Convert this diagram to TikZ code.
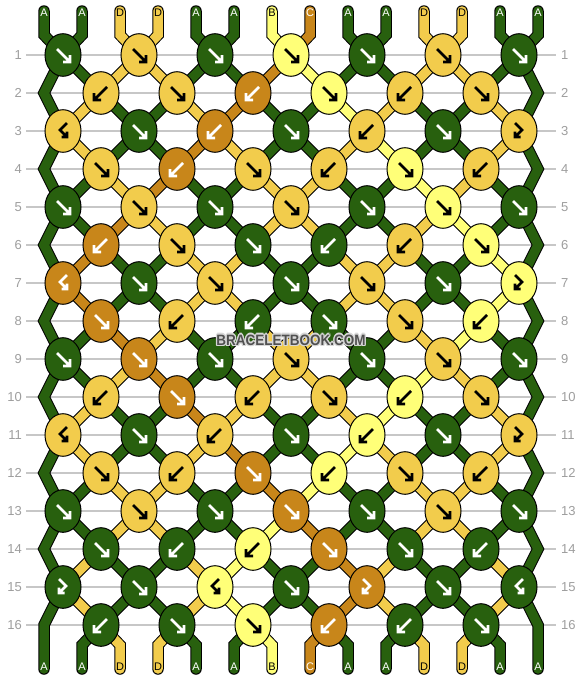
\documentclass[tikz,border=0pt]{standalone}
\usepackage{fontspec}
\setmainfont{Liberation Sans}
\usetikzlibrary{shapes.geometric}
\pgfdeclarelayer{bg}
\pgfsetlayers{bg,main}
\definecolor{cA}{RGB}{40,96,14}
\definecolor{cD}{RGB}{242,204,76}
\definecolor{cB}{RGB}{255,255,120}
\definecolor{cC}{RGB}{200,134,26}
\colorlet{tA}{white}
\colorlet{tC}{white}
\colorlet{tB}{black}
\colorlet{tD}{black}
\definecolor{wmgray}{RGB}{80,80,80}
\definecolor{wmhalo}{RGB}{215,215,215}
\newcommand\drawstrand[2]{\draw[strandout] #2; \draw[strandin,draw=c#1] #2;}
\newcommand\kArrf[1]{\draw[arw,draw=#1] (-6,-6) -- (7,7) (7,0) -- (7,7) -- (0,7);}
\newcommand\kArrb[1]{\draw[arw,draw=#1] (6,-6) -- (-7,7) (-7,0) -- (-7,7) -- (0,7);}
\newcommand\kArrfb[1]{\draw[arw,draw=#1] (-4,-8) -- (3,-1) -- (-4,6) (-4,0.5) -- (-4,6) -- (1.5,6);}
\newcommand\kArrbf[1]{\draw[arw,draw=#1] (4,-8) -- (-3,-1) -- (4,6) (4,0.5) -- (4,6) -- (-1.5,6);}
\newcommand\wmtext{\scalebox{0.9}[1]{\fontsize{15}{15}\selectfont\bfseries BRACELETBOOK.COM}}
\begin{document}
\begin{tikzpicture}[x=1pt,y=-1pt,
  strandout/.style={line width=11.5pt, draw=black, line cap=round, line join=miter},
  strandin/.style={line width=9.5pt, line cap=round, line join=miter},
  knot/.style={ellipse, draw=black, line width=1pt, minimum width=36pt, minimum height=42.6pt, inner sep=0pt},
  arw/.style={line width=2.8pt, line join=miter, line cap=butt},
  gridline/.style={draw=black!22, line width=1.2pt},
  rowlab/.style={text=black!38, inner sep=0pt, font=\fontsize{13}{13}\selectfont},
  strlab/.style={inner sep=0pt, font=\fontsize{11}{11}\selectfont}]
\useasboundingbox (0,0) rectangle (582,680);
% background, grid lines and row numbers
\begin{pgfonlayer}{bg}
\fill[white] (0,0) rectangle (582,680);
\foreach \rw in {1,...,16} {
  \pgfmathtruncatemacro\ky{17+38*\rw}
  \draw[gridline] (26,\ky) -- (556,\ky);
}
\end{pgfonlayer}
\foreach \rw in {1,...,16} {
  \pgfmathtruncatemacro\ky{17+38*\rw}
  \node[rowlab, anchor=east] (ll\rw) at (22,\ky) {\rw};
  \node[rowlab, anchor=west] (rl\rw) at (561,\ky) {\rw};
}
% helper coordinates
\foreach \pp in {1,...,14} {
  \pgfmathtruncatemacro\X{44+38*(\pp-1)}
  \coordinate (ta\pp) at (\X,11);
  \coordinate (tb\pp) at (\X,35);
  \coordinate (bb\pp) at (\X,645);
  \coordinate (ba\pp) at (\X,669);
}
\foreach \rw in {2,4,...,16} {
  \pgfmathtruncatemacro\ky{17+38*\rw}
  \coordinate (eL\rw) at (44,\ky);
  \coordinate (eR\rw) at (538,\ky);
}
% knots
\foreach \rw/\lst in {
  1/{f/A,f/D,f/A,f/B,f/A,f/D,f/A},
  2/{b/D,f/D,b/C,f/B,b/D,f/D},
  3/{bf/D,f/A,b/C,f/A,b/D,f/A,fb/D},
  4/{f/D,b/C,f/D,b/D,f/B,b/D},
  5/{f/A,f/D,f/A,f/D,f/A,f/B,f/A},
  6/{b/C,f/D,f/A,b/A,b/D,f/B},
  7/{bf/C,f/A,f/D,f/A,f/D,f/A,fb/B},
  8/{f/C,b/D,b/A,f/A,f/D,b/B},
  9/{f/A,f/C,f/A,f/D,f/A,f/D,f/A},
  10/{b/D,f/C,b/D,f/D,b/B,f/D},
  11/{bf/D,f/A,b/D,f/A,b/B,f/A,fb/D},
  12/{f/D,b/D,f/C,b/B,f/D,b/D},
  13/{f/A,f/D,f/A,f/C,f/A,f/D,f/A},
  14/{f/A,b/A,b/B,f/C,f/A,b/A},
  15/{fb/A,f/A,bf/B,f/A,fb/C,f/A,bf/A},
  16/{b/A,f/A,f/B,b/C,b/A,f/A}} {
  \pgfmathtruncatemacro\ky{17+38*\rw}
  \pgfmathtruncatemacro\odd{mod(\rw,2)}
  \foreach \kt/\kc [count=\kn] in \lst {
    \pgfmathtruncatemacro\kx{\odd==1 ? 63+76*(\kn-1) : 101+76*(\kn-1)}
    \node[knot, fill=c\kc] (k\rw-\kn) at (\kx,\ky) {};
    \begin{scope}[shift={(\kx,\ky)}]
      \csname kArr\kt\endcsname{t\kc}
    \end{scope}
  }
}
% strands
\begin{pgfonlayer}{bg}
\foreach \rw/\lst in {
  0/{A,A,D,D,A,A,B,C,A,A,D,D,A,A},
  1/{A,A,D,D,A,A,C,B,A,A,D,D,A,A},
  2/{A,D,A,A,D,C,A,A,B,D,A,A,D,A},
  3/{A,D,A,A,C,D,A,A,D,B,A,A,D,A},
  4/{A,A,D,C,A,A,D,D,A,A,B,D,A,A},
  5/{A,A,C,D,A,A,D,D,A,A,D,B,A,A},
  6/{A,C,A,A,D,D,A,A,D,D,A,A,B,A},
  7/{A,C,A,A,D,D,A,A,D,D,A,A,B,A},
  8/{A,A,C,D,A,A,D,D,A,A,D,B,A,A},
  9/{A,A,D,C,A,A,D,D,A,A,B,D,A,A},
  10/{A,D,A,A,C,D,A,A,D,B,A,A,D,A},
  11/{A,D,A,A,D,C,A,A,B,D,A,A,D,A},
  12/{A,A,D,D,A,A,C,B,A,A,D,D,A,A},
  13/{A,A,D,D,A,A,B,C,A,A,D,D,A,A},
  14/{A,D,A,A,D,B,A,A,C,D,A,A,D,A},
  15/{A,D,A,A,D,B,A,A,C,D,A,A,D,A},
  16/{A,A,D,D,A,A,B,C,A,A,D,D,A,A}} {
  \foreach \sc [count=\pp] in \lst {
    \pgfmathtruncatemacro\rn{\rw+1}
    \pgfmathtruncatemacro\rr{\rw+2}
    \pgfmathtruncatemacro\odd{mod(\rw,2)}
    \pgfmathtruncatemacro\ka{mod(\rw,2)==1 ? floor((\pp+1)/2) : floor(\pp/2)}
    \pgfmathtruncatemacro\kb{mod(\rn,2)==1 ? floor((\pp+1)/2) : floor(\pp/2)}
    \ifnum\rw=0
      \drawstrand{\sc}{(ta\pp) -- (tb\pp) -- (k1-\kb.center)}
    \else\ifnum\rw=16
      \ifnum\ka>0 \ifnum\ka<7
        \drawstrand{\sc}{(k16-\ka.center) -- (bb\pp) -- (ba\pp)}
      \fi\fi
    \else
      \ifnum\odd=1
        \ifnum\pp=1
          \ifnum\rn=16
            \drawstrand{\sc}{(k\rw-1.center) -- (eL\rn) -- (ba1)}
          \else
            \drawstrand{\sc}{(k\rw-1.center) -- (eL\rn) -- (k\rr-1.center)}
          \fi
        \else\ifnum\pp=14
          \ifnum\rn=16
            \drawstrand{\sc}{(k\rw-7.center) -- (eR\rn) -- (ba14)}
          \else
            \drawstrand{\sc}{(k\rw-7.center) -- (eR\rn) -- (k\rr-7.center)}
          \fi
        \else
          \drawstrand{\sc}{(k\rw-\ka.center) -- (k\rn-\kb.center)}
        \fi\fi
      \else
        \ifnum\ka>0 \ifnum\ka<7
          \drawstrand{\sc}{(k\rw-\ka.center) -- (k\rn-\kb.center)}
        \fi\fi
      \fi
    \fi\fi
  }
}
\end{pgfonlayer}
% string labels
\foreach \sc [count=\pp] in {A,A,D,D,A,A,B,C,A,A,D,D,A,A} {
  \pgfmathtruncatemacro\X{44+38*(\pp-1)}
  \node[strlab, text=t\sc] (tl\pp) at (\X,13) {\sc};
  \node[strlab, text=t\sc] (bl\pp) at (\X,667) {\sc};
}
% watermark with light halo
\foreach \dx/\dy [count=\hn] in {-1.3/0,1.3/0,0/-1.3,0/1.3,-0.9/-0.9,0.9/0.9,-0.9/0.9,0.9/-0.9} {
  \node[text=wmhalo, inner sep=0pt, xshift=\dx pt, yshift=\dy pt] (wmh\hn) at (291,340) {\wmtext};
}
\node[text=wmgray, inner sep=0pt] (wm) at (291,340) {\wmtext};
\end{tikzpicture}
\end{document}
